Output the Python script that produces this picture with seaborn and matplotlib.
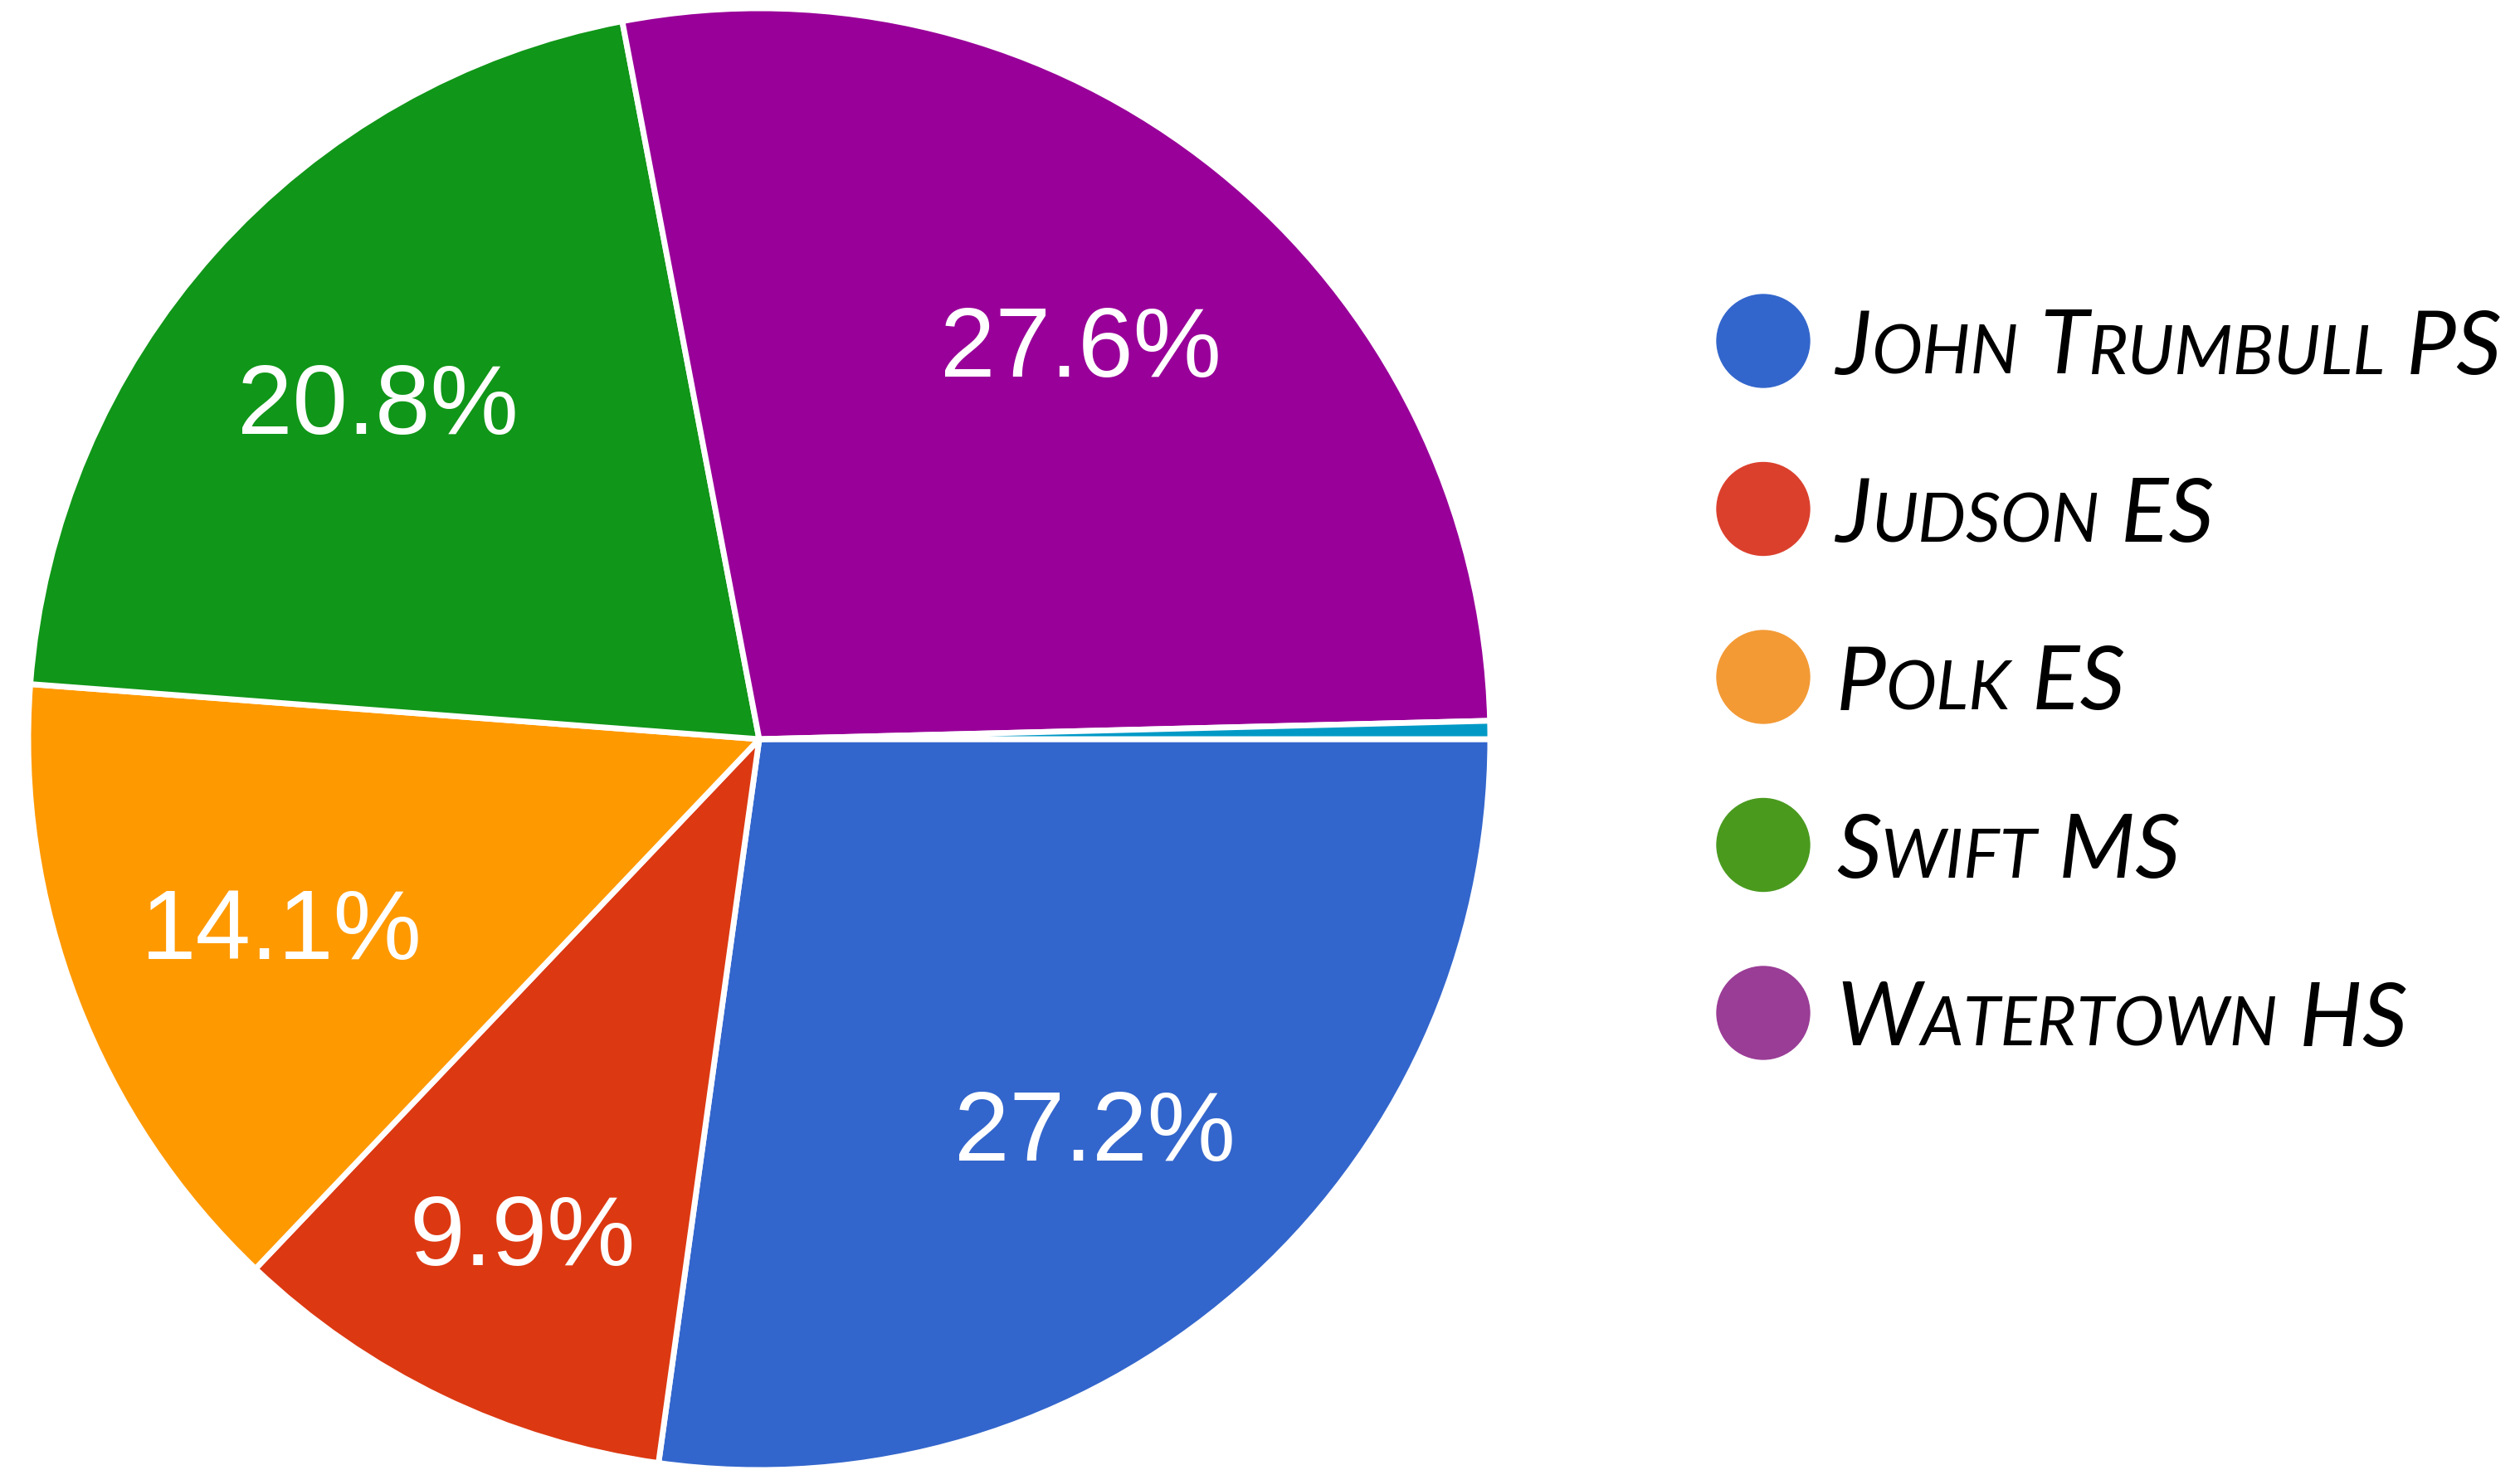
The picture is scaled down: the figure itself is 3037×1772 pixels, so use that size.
import matplotlib
matplotlib.use("Agg")
import matplotlib.pyplot as plt
from matplotlib.patches import Ellipse
from matplotlib.offsetbox import TextArea, HPacker, AnchoredOffsetbox
import seaborn as sns

sns.set_theme(style="white")

# slices, clockwise from 3 o'clock
schools = ["John Trumbull PS", "Judson ES", "Polk ES", "Swift MS", "Watertown HS", "Other"]
shares = [27.2, 9.9, 14.1, 20.8, 27.6, 0.4]
pie_colors = ["#3366CC", "#DC3912", "#FF9900", "#109618", "#990099", "#0099C6"]

# legend entries (small caps split: big first letter, smaller rest)
legend_parts = [
    [("J", "OHN"), ("T", "RUMBULL"), ("PS", "")],
    [("J", "UDSON"), ("ES", "")],
    [("P", "OLK"), ("ES", "")],
    [("S", "WIFT"), ("MS", "")],
    [("W", "ATERTOWN"), ("HS", "")],
]
legend_colors = ["#3366CC", "#DB402D", "#F39A35", "#4A9A1E", "#9A3D96"]

W, H = 3037, 1772
fig = plt.figure(figsize=(W / 100, H / 100), dpi=100)
fig.patch.set_facecolor("white")

cx, cy, r = 915, 891, 881
ax = fig.add_axes([(cx - r) / W, (H - cy - r) / H, 2 * r / W, 2 * r / H])
ax.set_aspect("equal")


def pct_label(p):
    return f"{p:.1f}%" if p >= 1 else ""


wedges, texts, autotexts = ax.pie(
    shares,
    colors=pie_colors,
    startangle=0,
    counterclock=False,
    radius=1,
    autopct=pct_label,
    pctdistance=0.70,
    wedgeprops=dict(edgecolor="white", linewidth=5),
    textprops=dict(color="white", fontsize=86, family="Liberation Sans"),
)
for t, s in zip(autotexts, shares):
    t.set_va("center_baseline")
    if s < 12:
        # small slice: label sits a bit further out
        x, y = t.get_position()
        t.set_position((x * 0.745 / 0.70, y * 0.745 / 0.70))
ax.set_xlim(-1, 1)
ax.set_ylim(-1, 1)
ax.axis("off")

# legend
lx, ly0, step = 2125, 411, 202.5
font = dict(family="Lato", style="italic", color="black")
for i, (parts, col) in enumerate(zip(legend_parts, legend_colors)):
    y = ly0 + i * step
    fig.add_artist(Ellipse((lx / W, (H - y) / H), 112 / W, 112 / H,
                           transform=fig.transFigure, color=col))
    boxes = []
    for j, (big, small) in enumerate(parts):
        lead = " " if j > 0 else ""
        boxes.append(TextArea(lead + big, textprops=dict(fontsize=77, **font)))
        if small:
            boxes.append(TextArea(small, textprops=dict(fontsize=59, **font)))
    pack = HPacker(children=boxes, align="baseline", pad=0, sep=0)
    anchored = AnchoredOffsetbox(loc="center left", child=pack, pad=0, borderpad=0, frameon=False,
                                 bbox_to_anchor=((lx + 88) / W, (H - y - 9) / H),
                                 bbox_transform=fig.transFigure)
    fig.add_artist(anchored)

fig.savefig("out.png", dpi=100, facecolor="white")
